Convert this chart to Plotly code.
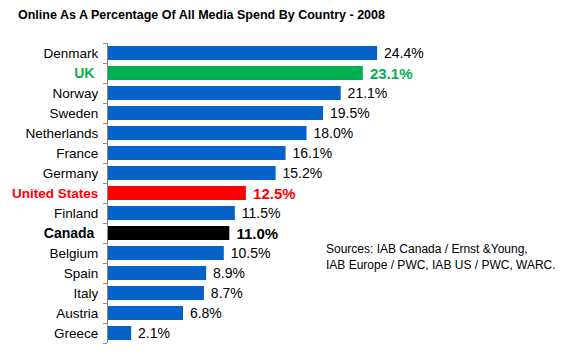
import plotly.graph_objects as go

countries = ["Denmark", "UK", "Norway", "Sweden", "Netherlands", "France", "Germany",
             "United States", "Finland", "Canada", "Belgium", "Spain", "Italy", "Austria", "Greece"]
values = [24.4, 23.1, 21.1, 19.5, 18.0, 16.1, 15.2, 12.5, 11.5, 11.0, 10.5, 8.9, 8.7, 6.8, 2.1]
highlight = {"UK": "#00B050", "United States": "#FF0000", "Canada": "#000000"}
BLUE = "#0563C8"

NB = "\u00a0"
colors = [highlight.get(c, BLUE) for c in countries]
text_colors = [highlight.get(c, "#000000") for c in countries]
text_sizes = [15 if c in highlight else 14 for c in countries]
texts = [f"{NB}<b>{v:.1f}%</b>" if c in highlight else f"{NB}{v:.1f}%" for c, v in zip(countries, values)]
tick_text = []
for c in countries:
    if c in highlight:
        pad = "" if c == "United States" else NB
        size = 13.5 if c == "United States" else 14
        tick_text.append(f"<b><span style='color:{highlight[c]};font-size:{size}px'>{c}{pad}</span></b>")
    else:
        tick_text.append(c)

fig = go.Figure(go.Bar(
    x=values, y=countries, orientation="h",
    marker=dict(color=colors, line=dict(width=0)),
    text=texts, textposition="outside", cliponaxis=False, constraintext="none",
    textfont=dict(color=text_colors, size=text_sizes, family="Liberation Sans, Arial"),
))

fig.update_layout(
    width=563, height=355,
    margin=dict(l=108, r=5, t=43, b=12),
    paper_bgcolor="white", plot_bgcolor="white",
    bargap=0.3,
    showlegend=False,
    font=dict(family="Liberation Sans, Arial", size=13, color="#000000"),
    title=dict(text="<b>Online As A Percentage Of All Media Spend By Country - 2008</b>",
               x=18/563, xanchor="left", y=1-15/355, yanchor="middle",
               font=dict(size=12.5, color="#000000")),
    xaxis=dict(range=[0, 40.8], visible=False, showgrid=False, zeroline=False, automargin=False),
    yaxis=dict(categoryorder="array", categoryarray=countries, autorange="reversed",
               tickmode="array", tickvals=countries, ticktext=tick_text, automargin=False,
               tickson="boundaries", ticks="outside", ticklen=4, tickcolor="#888888",
               showline=True, linecolor="#888888", linewidth=1,
               showgrid=False, zeroline=False, ticklabelstandoff=6,
               tickfont=dict(size=13.5, color="#000000")),
    annotations=[dict(text="Sources: IAB Canada / Ernst &Young,<br>IAB Europe / PWC, IAB US / PWC, WARC.",
                      xref="paper", yref="paper", x=(324-108)/450, y=1-(240-43)/300,
                      xanchor="left", yanchor="top", align="left", showarrow=False,
                      font=dict(size=12, color="#000000"))],
)

fig.write_html("out.html", config={"displayModeBar": False},
               post_script="document.body.style.margin='0';")
